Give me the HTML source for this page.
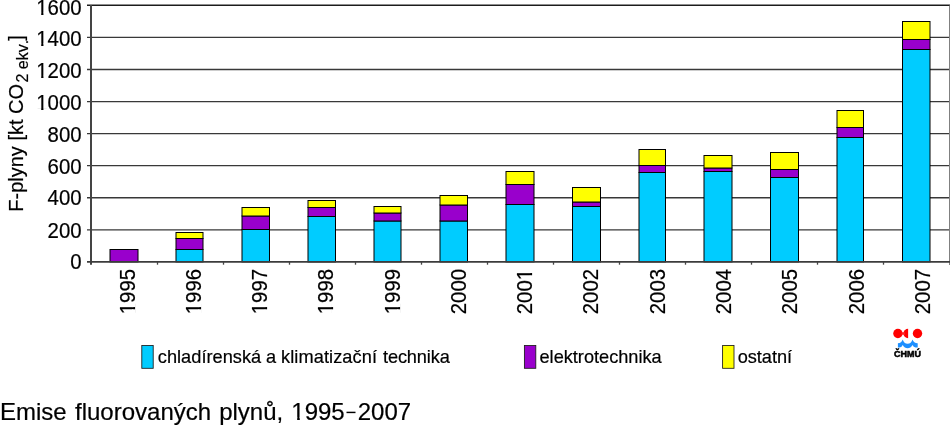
<!DOCTYPE html>
<html><head><meta charset="utf-8"><title>Emise fluorovaných plynů</title>
<style>
html,body{margin:0;padding:0;background:#fff;}
body{width:950px;height:442px;overflow:hidden;font-family:"Liberation Sans",sans-serif;}
svg{display:block;position:absolute;left:0;top:0;}
.g{will-change:transform;}
svg text{font-family:"Liberation Sans",sans-serif;fill:#000;font-kerning:none;stroke:#000;stroke-width:0.2px;}
body{font-kerning:none;}
</style></head><body>
<svg class="g" width="950" height="442" viewBox="0 0 950 442">
<rect x="0" y="0" width="950" height="442" fill="#fff"/>
<g stroke="#383838" stroke-width="1.3">
<line x1="87" y1="229.83" x2="950" y2="229.83"/>
<line x1="87" y1="197.76" x2="950" y2="197.76"/>
<line x1="87" y1="165.69" x2="950" y2="165.69"/>
<line x1="87" y1="133.62" x2="950" y2="133.62"/>
<line x1="87" y1="101.55" x2="950" y2="101.55"/>
<line x1="87" y1="69.48" x2="950" y2="69.48"/>
<line x1="87" y1="37.41" x2="950" y2="37.41"/>
</g>
<line x1="87" y1="5.3" x2="950" y2="5.3" stroke="#1c1c1c" stroke-width="1.4"/>
<line x1="949.6" y1="5.5" x2="949.6" y2="265" stroke="#808080" stroke-width="1.2"/>
<g stroke="#000" stroke-width="1">
<rect x="110" y="249.5" width="28" height="12.399999999999977" fill="#9900CC"/>
<rect x="176" y="249.5" width="27" height="12.399999999999977" fill="#00CCFF"/>
<rect x="176" y="238.5" width="27" height="11.0" fill="#9900CC"/>
<rect x="176" y="232.5" width="27" height="6.0" fill="#FFFF00"/>
<rect x="242" y="229.5" width="27.5" height="32.39999999999998" fill="#00CCFF"/>
<rect x="242" y="216" width="27.5" height="13.5" fill="#9900CC"/>
<rect x="242" y="207.5" width="27.5" height="8.5" fill="#FFFF00"/>
<rect x="308" y="216.5" width="27.5" height="45.39999999999998" fill="#00CCFF"/>
<rect x="308" y="207.5" width="27.5" height="9.0" fill="#9900CC"/>
<rect x="308" y="200.5" width="27.5" height="7.0" fill="#FFFF00"/>
<rect x="374" y="221" width="27" height="40.89999999999998" fill="#00CCFF"/>
<rect x="374" y="213" width="27" height="8" fill="#9900CC"/>
<rect x="374" y="206.5" width="27" height="6.5" fill="#FFFF00"/>
<rect x="440" y="221" width="27.5" height="40.89999999999998" fill="#00CCFF"/>
<rect x="440" y="205" width="27.5" height="16" fill="#9900CC"/>
<rect x="440" y="195.5" width="27.5" height="9.5" fill="#FFFF00"/>
<rect x="506" y="204.5" width="28" height="57.39999999999998" fill="#00CCFF"/>
<rect x="506" y="184.5" width="28" height="20.0" fill="#9900CC"/>
<rect x="506" y="171.5" width="28" height="13.0" fill="#FFFF00"/>
<rect x="572.5" y="206.5" width="28.0" height="55.39999999999998" fill="#00CCFF"/>
<rect x="572.5" y="202" width="28.0" height="4.5" fill="#9900CC"/>
<rect x="572.5" y="187.5" width="28.0" height="14.5" fill="#FFFF00"/>
<rect x="639" y="172.5" width="26.5" height="89.39999999999998" fill="#00CCFF"/>
<rect x="639" y="165.5" width="26.5" height="7.0" fill="#9900CC"/>
<rect x="639" y="149.5" width="26.5" height="16.0" fill="#FFFF00"/>
<rect x="704" y="171.5" width="28" height="90.39999999999998" fill="#00CCFF"/>
<rect x="704" y="168" width="28" height="3.5" fill="#9900CC"/>
<rect x="704" y="155.5" width="28" height="12.5" fill="#FFFF00"/>
<rect x="770.5" y="177.5" width="28.0" height="84.39999999999998" fill="#00CCFF"/>
<rect x="770.5" y="169.5" width="28.0" height="8.0" fill="#9900CC"/>
<rect x="770.5" y="152.5" width="28.0" height="17.0" fill="#FFFF00"/>
<rect x="837" y="137.5" width="26.5" height="124.39999999999998" fill="#00CCFF"/>
<rect x="837" y="127.5" width="26.5" height="10.0" fill="#9900CC"/>
<rect x="837" y="110.5" width="26.5" height="17.0" fill="#FFFF00"/>
<rect x="902.5" y="49.5" width="27.5" height="212.39999999999998" fill="#00CCFF"/>
<rect x="902.5" y="39.5" width="27.5" height="10.0" fill="#9900CC"/>
<rect x="902.5" y="21.5" width="27.5" height="18.0" fill="#FFFF00"/>
</g>
<line x1="91.0" y1="5" x2="91.0" y2="264.7" stroke="#444" stroke-width="2"/>
<line x1="87" y1="261.9" x2="950" y2="261.9" stroke="#3c3c3c" stroke-width="1.7"/>
<g stroke="#444" stroke-width="1.3">
<line x1="157.5" y1="261.9" x2="157.5" y2="264.7"/>
<line x1="223.5" y1="261.9" x2="223.5" y2="264.7"/>
<line x1="289.5" y1="261.9" x2="289.5" y2="264.7"/>
<line x1="355.5" y1="261.9" x2="355.5" y2="264.7"/>
<line x1="421.5" y1="261.9" x2="421.5" y2="264.7"/>
<line x1="487.5" y1="261.9" x2="487.5" y2="264.7"/>
<line x1="553.5" y1="261.9" x2="553.5" y2="264.7"/>
<line x1="619.5" y1="261.9" x2="619.5" y2="264.7"/>
<line x1="685.5" y1="261.9" x2="685.5" y2="264.7"/>
<line x1="751.5" y1="261.9" x2="751.5" y2="264.7"/>
<line x1="817.5" y1="261.9" x2="817.5" y2="264.7"/>
<line x1="883.5" y1="261.9" x2="883.5" y2="264.7"/>
</g>
<g font-size="20.4" text-anchor="end">
<g transform="translate(81.6 269.1) scale(1 1.05)"><text>0</text></g>
<g transform="translate(81.6 237.5) scale(1 1.05)"><text>200</text></g>
<g transform="translate(81.6 204.9) scale(1 1.05)"><text>400</text></g>
<g transform="translate(81.6 173.5) scale(1 1.05)"><text>600</text></g>
<g transform="translate(81.6 142.4) scale(1 1.05)"><text>800</text></g>
<g transform="translate(81.6 110.39999999999999) scale(1 1.05)"><text>1000</text><rect x="-44.98" y="-2.20" width="4.58" height="3.10" fill="#fff"/><rect x="-38.16" y="-2.20" width="4.08" height="3.10" fill="#fff"/></g>
<g transform="translate(81.6 78.1) scale(1 1.05)"><text>1200</text><rect x="-44.98" y="-2.20" width="4.58" height="3.10" fill="#fff"/><rect x="-38.16" y="-2.20" width="4.08" height="3.10" fill="#fff"/></g>
<g transform="translate(81.6 45.800000000000004) scale(1 1.05)"><text>1400</text><rect x="-44.98" y="-2.20" width="4.58" height="3.10" fill="#fff"/><rect x="-38.16" y="-2.20" width="4.08" height="3.10" fill="#fff"/></g>
<g transform="translate(81.6 15.0) scale(1 1.05)"><text>1600</text><rect x="-44.98" y="-2.20" width="4.58" height="3.10" fill="#fff"/><rect x="-38.16" y="-2.20" width="4.08" height="3.10" fill="#fff"/></g>
</g>
<g font-size="20.4" text-anchor="end">
<g transform="translate(134.5 268.9) rotate(-90) scale(1 1.05)"><text>1995</text><rect x="-44.98" y="-2.20" width="4.58" height="3.10" fill="#fff"/><rect x="-38.16" y="-2.20" width="4.08" height="3.10" fill="#fff"/></g>
<g transform="translate(200.78 268.9) rotate(-90) scale(1 1.05)"><text>1996</text><rect x="-44.98" y="-2.20" width="4.58" height="3.10" fill="#fff"/><rect x="-38.16" y="-2.20" width="4.08" height="3.10" fill="#fff"/></g>
<g transform="translate(267.06 268.9) rotate(-90) scale(1 1.05)"><text>1997</text><rect x="-44.98" y="-2.20" width="4.58" height="3.10" fill="#fff"/><rect x="-38.16" y="-2.20" width="4.08" height="3.10" fill="#fff"/></g>
<g transform="translate(333.34 268.9) rotate(-90) scale(1 1.05)"><text>1998</text><rect x="-44.98" y="-2.20" width="4.58" height="3.10" fill="#fff"/><rect x="-38.16" y="-2.20" width="4.08" height="3.10" fill="#fff"/></g>
<g transform="translate(399.62 268.9) rotate(-90) scale(1 1.05)"><text>1999</text><rect x="-44.98" y="-2.20" width="4.58" height="3.10" fill="#fff"/><rect x="-38.16" y="-2.20" width="4.08" height="3.10" fill="#fff"/></g>
<g transform="translate(465.9 268.9) rotate(-90) scale(1 1.05)"><text>2000</text></g>
<g transform="translate(532.18 268.9) rotate(-90) scale(1 1.05)"><text>2001</text><rect x="-10.95" y="-2.20" width="4.58" height="3.10" fill="#fff"/><rect x="-4.13" y="-2.20" width="4.08" height="3.10" fill="#fff"/></g>
<g transform="translate(598.46 268.9) rotate(-90) scale(1 1.05)"><text>2002</text></g>
<g transform="translate(664.74 268.9) rotate(-90) scale(1 1.05)"><text>2003</text></g>
<g transform="translate(731.02 268.9) rotate(-90) scale(1 1.05)"><text>2004</text></g>
<g transform="translate(797.3 268.9) rotate(-90) scale(1 1.05)"><text>2005</text></g>
<g transform="translate(863.58 268.9) rotate(-90) scale(1 1.05)"><text>2006</text></g>
<g transform="translate(929.86 268.9) rotate(-90) scale(1 1.05)"><text>2007</text></g>
</g>
<text transform="translate(23.2 211.7) rotate(-90)" font-size="20">F-plyny [kt CO<tspan font-size="16" dy="4.8" dx="1.3">2 ekv.</tspan><tspan dy="-4.8" dx="-0.9">]</tspan></text>
<rect x="141.8" y="345.5" width="11.4" height="22.8" fill="#00CCFF" stroke="#1a1a1a" stroke-width="0.85"/>
<text x="157.8" y="363" font-size="18.2" textLength="103.4" lengthAdjust="spacing">chladírenská</text>
<text x="266.0" y="363" font-size="18.2">a</text>
<text x="281.0" y="363" font-size="18.2" textLength="96.0" lengthAdjust="spacing">klimatizační</text>
<text x="383.0" y="363" font-size="18.2" textLength="66.8" lengthAdjust="spacing">technika</text>
<rect x="524.4" y="345.5" width="11.4" height="22.8" fill="#9900CC" stroke="#1a1a1a" stroke-width="0.85"/>
<text x="539.5" y="363" font-size="18.2" textLength="122.2" lengthAdjust="spacing">elektrotechnika</text>
<rect x="722.6" y="345.5" width="11.4" height="22.8" fill="#FFFF00" stroke="#1a1a1a" stroke-width="0.85"/>
<text x="737.7" y="363" font-size="18.2" textLength="54.4" lengthAdjust="spacing">ostatní</text>
<g>
<circle cx="897.9" cy="333.5" r="4.7" fill="#f00"/>
<circle cx="917.5" cy="333.5" r="4.7" fill="#f00"/>
<path d="M908.1 328.8 A4.7 4.7 0 0 0 908.1 338.2 Z" fill="#f00"/>
<rect x="901.5" y="332.3" width="3.5" height="2.4" fill="#f22"/>
<path d="M897.9 343.3 Q901.6 343 902.7 339.5 Q904 343.7 907.6 343.7 Q911.2 343.7 912.5 339.5 Q913.6 343 917.7 343.3 L917.7 347.6 L915.6 347.6 Q913.4 347 912.5 345 Q910.6 348.3 907.6 348.3 Q904.6 348.3 902.7 345 Q901.8 347 899.8 347.6 L897.9 347.6 Z" fill="#1E90FF"/>
<text x="894.1" y="356.7" font-size="8.3" font-weight="bold" textLength="26.8" lengthAdjust="spacingAndGlyphs" style="stroke:#000;stroke-width:0.5px">ČHMÚ</text>
</g>
<g font-size="24">
<text x="0" y="419.5">Emise</text>
<text x="75" y="419.5">fluorovaných</text>
<text x="219.2" y="419.5">plynů,</text>
<text x="291.3" y="419.5">1995</text><g transform="translate(291.3 419.5)"><rect x="0.47" y="-2.59" width="5.39" height="3.65" fill="#fff"/><rect x="8.49" y="-2.59" width="4.80" height="3.65" fill="#fff"/></g>
<text x="357.7" y="419.5">2007</text>
<rect x="346.5" y="411.7" width="9" height="1.45" fill="#000"/>
</g>
</svg>
</body></html>
